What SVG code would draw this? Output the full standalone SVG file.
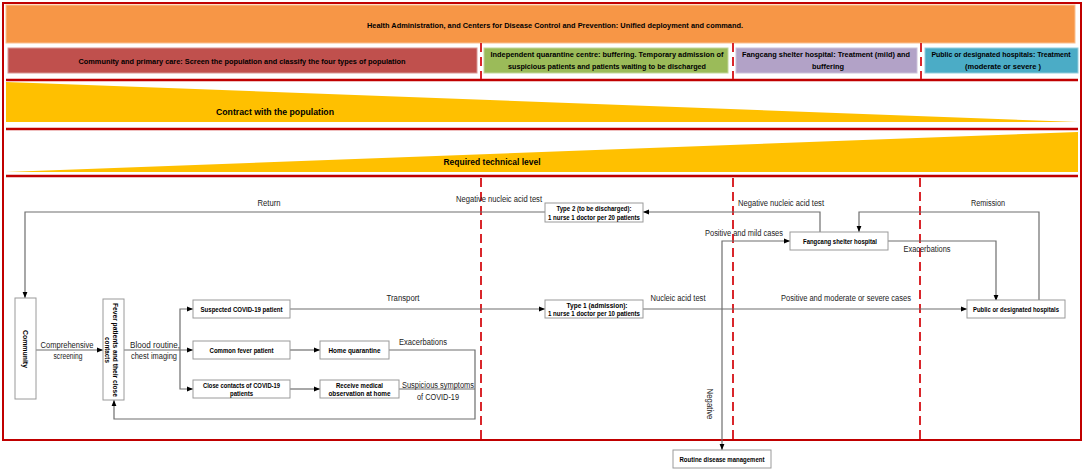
<svg xmlns="http://www.w3.org/2000/svg" width="1084" height="470" viewBox="0 0 1084 470">
<defs>
<marker id="ah" viewBox="0 0 10 10" refX="10" refY="5" markerWidth="6" markerHeight="6" orient="auto" markerUnits="userSpaceOnUse"><path d="M0,1 L10,5 L0,9 z" fill="#000"/></marker>
<style>
.frame{fill:none;stroke:#C00000;stroke-width:2}
.hline{stroke:#C00000;stroke-width:2.4}
.dash{stroke:#D9262B;stroke-width:2;stroke-dasharray:9,5}
.box{fill:#fff;stroke:#9a9a9a;stroke-width:1}
.nt{font-family:"Liberation Sans",Arial,sans-serif;font-size:7px;font-weight:bold;fill:#000;text-anchor:middle}
.ht{font-family:"Liberation Sans",Arial,sans-serif;font-size:8px;font-weight:bold;fill:#000;text-anchor:middle}
.tt{font-family:"Liberation Sans",Arial,sans-serif;font-size:9px;font-weight:bold;fill:#000;text-anchor:middle}
.lb{font-family:"Liberation Sans",Arial,sans-serif;font-size:8.5px;fill:#222;text-anchor:middle}
.cn{fill:none;stroke:#6e6e6e;stroke-width:1.2}
</style>
</defs>
<rect width="1084" height="470" fill="#fff"/>

<!-- bands -->
<g id="header-band">
<rect x="6" y="5" width="1069" height="38" fill="#F79646" stroke="#FAC090" stroke-width="1"/>
<text class="ht" x="555" y="27.5" textLength="376" lengthAdjust="spacingAndGlyphs">Health Administration, and Centers for Disease Control and Prevention: Unified deployment and command.</text>
</g>
<g id="hdr-community">
<rect x="8" y="48" width="469" height="25" fill="#C0504D" stroke="#D99694" stroke-width="1"/>
<text class="ht" x="242" y="64" textLength="327" lengthAdjust="spacingAndGlyphs">Community and primary care: Screen the population and classify the four types of population</text>
</g>
<g id="hdr-quarantine">
<rect x="484" y="48" width="244" height="25" fill="#9BBB59" stroke="#C3D69B" stroke-width="1"/>
<text class="ht" x="607" y="57" textLength="233" lengthAdjust="spacingAndGlyphs">Independent quarantine centre: buffering. Temporary admission of</text>
<text class="ht" x="607" y="69" textLength="198" lengthAdjust="spacingAndGlyphs">suspicious patients and patients waiting to be discharged</text>
</g>
<g id="hdr-fangcang">
<rect x="736" y="48" width="181" height="25" fill="#B2A2C7" stroke="#CCC1DA" stroke-width="1"/>
<text class="ht" x="826" y="57" textLength="168" lengthAdjust="spacingAndGlyphs">Fangcang shelter hospital: Treatment (mild) and</text>
<text class="ht" x="828" y="69" textLength="32" lengthAdjust="spacingAndGlyphs">buffering</text>
</g>
<g id="hdr-public">
<rect x="925" y="48" width="153" height="25" fill="#4BACC6" stroke="#93CDDD" stroke-width="1"/>
<text class="ht" x="1001" y="57" style="font-size:7px">Public or designated hospitals: Treatment</text>
<text class="ht" x="1003" y="69" textLength="76" lengthAdjust="spacingAndGlyphs">(moderate or severe )</text>
</g>

<g id="tri-population">
<polygon points="6,82 1078,122 6,122" fill="#FFC000"/>
<text class="tt" x="275" y="115" textLength="118" lengthAdjust="spacingAndGlyphs">Contract with the population</text>
</g>
<g id="tri-technical">
<polygon points="6,172 1078,132 1078,172" fill="#FFC000"/>
<text class="tt" x="492" y="165" textLength="97" lengthAdjust="spacingAndGlyphs">Required technical level</text>
</g>

<!-- frame -->
<g id="frame">
<rect class="frame" x="3" y="3" width="1078" height="437"/>
<line class="hline" x1="6" y1="80" x2="1078" y2="80"/>
<line class="hline" x1="6" y1="129" x2="1078" y2="129"/>
<line class="hline" x1="6" y1="176" x2="1078" y2="176"/>
<line class="dash" x1="481" y1="43" x2="481" y2="79"/>
<line class="dash" x1="733" y1="43" x2="733" y2="79"/>
<line class="dash" x1="921" y1="43" x2="921" y2="79"/>
<line class="dash" x1="481" y1="178" x2="481" y2="439"/>
<line class="dash" x1="733" y1="178" x2="733" y2="439"/>
<line class="dash" x1="920" y1="178" x2="920" y2="439"/>
</g>

<!-- connectors -->
<g id="connectors">
<path class="cn" d="M545,212 H25 V298" marker-end="url(#ah)"/>
<path class="cn" d="M820,232 V212 H643" marker-end="url(#ah)"/>
<path class="cn" d="M1039,301 V212 H859 V232" marker-end="url(#ah)"/>
<path class="cn" d="M888,241 H996 V301" marker-end="url(#ah)"/>
<path class="cn" d="M722,309 V241 H790" marker-end="url(#ah)"/>
<path class="cn" d="M722,309 V450" marker-end="url(#ah)"/>
<path class="cn" d="M643,309 H967" marker-end="url(#ah)"/>
<path class="cn" d="M290,309 H545" marker-end="url(#ah)"/>
<path class="cn" d="M36,350 H103" marker-end="url(#ah)"/>
<path class="cn" d="M124,350 H193" marker-end="url(#ah)"/>
<path class="cn" d="M180,350 V309 H193" marker-end="url(#ah)"/>
<path class="cn" d="M180,350 V389 H193" marker-end="url(#ah)"/>
<path class="cn" d="M290,350 H320" marker-end="url(#ah)"/>
<path class="cn" d="M290,389 H320" marker-end="url(#ah)"/>
<path class="cn" d="M389,350 H475 V419 H114 V400" marker-end="url(#ah)"/>
<path class="cn" d="M399,389 H475"/>
<text class="lb" x="269" y="206" textLength="23" lengthAdjust="spacingAndGlyphs">Return</text>
<text class="lb" x="499" y="202" textLength="86" lengthAdjust="spacingAndGlyphs">Negative nucleic acid test</text>
<text class="lb" x="781" y="206" textLength="86" lengthAdjust="spacingAndGlyphs">Negative nucleic acid test</text>
<text class="lb" x="988" y="206" textLength="34" lengthAdjust="spacingAndGlyphs">Remission</text>
<text class="lb" x="744" y="236" textLength="78" lengthAdjust="spacingAndGlyphs">Positive and mild cases</text>
<text class="lb" x="927" y="252" textLength="47" lengthAdjust="spacingAndGlyphs">Exacerbations</text>
<text class="lb" x="403" y="301" textLength="33" lengthAdjust="spacingAndGlyphs">Transport</text>
<text class="lb" x="678" y="301" textLength="55" lengthAdjust="spacingAndGlyphs">Nucleic acid test</text>
<text class="lb" x="846" y="301" textLength="130" lengthAdjust="spacingAndGlyphs">Positive and moderate or severe cases</text>
<text class="lb" x="67" y="348" textLength="53" lengthAdjust="spacingAndGlyphs">Comprehensive</text>
<text class="lb" x="68" y="359" textLength="29" lengthAdjust="spacingAndGlyphs">screening</text>
<text class="lb" x="155" y="348" textLength="50" lengthAdjust="spacingAndGlyphs">Blood routine,</text>
<text class="lb" x="154" y="359" textLength="46" lengthAdjust="spacingAndGlyphs">chest imaging</text>
<text class="lb" x="423" y="345" textLength="48" lengthAdjust="spacingAndGlyphs">Exacerbations</text>
<text class="lb" x="438" y="388" textLength="72" lengthAdjust="spacingAndGlyphs">Suspicious symptoms</text>
<text class="lb" x="438" y="400" textLength="42" lengthAdjust="spacingAndGlyphs">of COVID-19</text>
<text class="lb" transform="translate(707,404) rotate(90)" x="0" y="0" textLength="31" lengthAdjust="spacingAndGlyphs">Negative</text>
</g>

<!-- nodes -->
<g id="community">
<rect class="box" x="15" y="298" width="21" height="101"/>
<text class="nt" transform="translate(22.5,349) rotate(90)" x="0" y="0" textLength="38" lengthAdjust="spacingAndGlyphs">Community</text>
</g>
<g id="fever-patients">
<rect class="box" x="103" y="299" width="21" height="101"/>
<text class="nt" transform="translate(113.5,350) rotate(90)"><tspan x="0" y="1" textLength="94" lengthAdjust="spacingAndGlyphs">Fever patients and their close</tspan><tspan x="0" y="9" textLength="26" lengthAdjust="spacingAndGlyphs">contacts</tspan></text>
</g>
<g id="suspected">
<rect class="box" x="193" y="300" width="97" height="18"/>
<text class="nt" x="241.5" y="311.5" textLength="82" lengthAdjust="spacingAndGlyphs">Suspected COVID-19 patient</text>
</g>
<g id="common-fever">
<rect class="box" x="193" y="341" width="97" height="18"/>
<text class="nt" x="241.5" y="352.5" textLength="64" lengthAdjust="spacingAndGlyphs">Common fever patient</text>
</g>
<g id="close-contacts">
<rect class="box" x="193" y="380" width="97" height="18"/>
<text class="nt" x="241.5" y="388" textLength="77" lengthAdjust="spacingAndGlyphs">Close contacts of COVID-19</text>
<text class="nt" x="241.5" y="396" textLength="23" lengthAdjust="spacingAndGlyphs">patients</text>
</g>
<g id="home-quarantine">
<rect class="box" x="320" y="341" width="69" height="18"/>
<text class="nt" x="354.5" y="352.5" textLength="52" lengthAdjust="spacingAndGlyphs">Home quarantine</text>
</g>
<g id="medical-observation">
<rect class="box" x="320" y="380" width="79" height="18"/>
<text class="nt" x="359.5" y="388" textLength="47" lengthAdjust="spacingAndGlyphs">Receive medical</text>
<text class="nt" x="359.5" y="396" textLength="62" lengthAdjust="spacingAndGlyphs">observation at home</text>
</g>
<g id="type2">
<rect class="box" x="545" y="203" width="98" height="19"/>
<text class="nt" x="594" y="211" textLength="75" lengthAdjust="spacingAndGlyphs">Type 2 (to be discharged):</text>
<text class="nt" x="594" y="219.5" textLength="92" lengthAdjust="spacingAndGlyphs">1 nurse 1 doctor per 20 patients</text>
</g>
<g id="type1">
<rect class="box" x="545" y="300" width="98" height="18"/>
<text class="nt" x="597" y="308" textLength="61" lengthAdjust="spacingAndGlyphs">Type 1 (admission):</text>
<text class="nt" x="594" y="316" textLength="92" lengthAdjust="spacingAndGlyphs">1 nurse 1 doctor per 10 patients</text>
</g>
<g id="fangcang">
<rect class="box" x="790" y="232" width="98" height="18"/>
<text class="nt" x="840" y="243.5" textLength="74" lengthAdjust="spacingAndGlyphs">Fangcang shelter hospital</text>
</g>
<g id="public-hospitals">
<rect class="box" x="967" y="300" width="98" height="18"/>
<text class="nt" x="1016" y="311.5" textLength="86" lengthAdjust="spacingAndGlyphs">Public or designated hospitals</text>
</g>
<g id="routine">
<rect class="box" x="673" y="450" width="98" height="18"/>
<text class="nt" x="722" y="461.5" textLength="85" lengthAdjust="spacingAndGlyphs">Routine disease management</text>
</g>
</svg>
